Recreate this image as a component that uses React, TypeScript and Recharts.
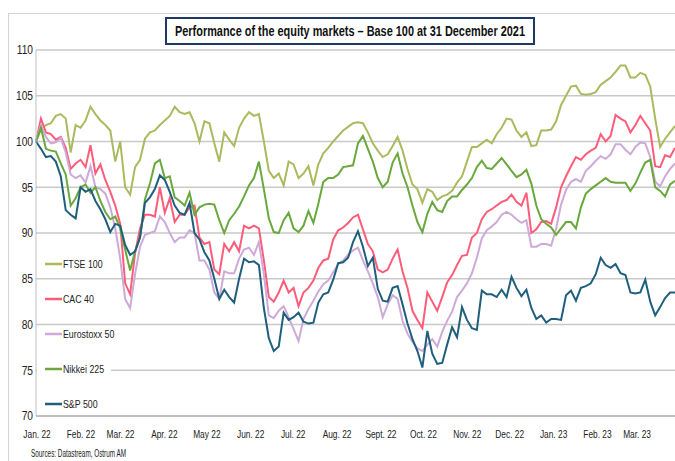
import { LineChart, Line, XAxis, YAxis, CartesianGrid } from 'recharts';

// Base 100 at 31 Dec 2021, two readings per week (every 3.5 days from 1 Jan 2022)
const FTSE = [
  100, 101.3, 101.8, 102, 102.8, 103, 102.5, 98.8, 101.8, 101.5,
  102.3, 103.8, 103, 102.3, 101.8, 101.2, 97.8, 100, 95, 94.2,
  97.2, 98, 100.3, 101, 101.2, 101.8, 102.3, 102.8, 103.8, 103.2,
  103, 103.2, 102, 100, 102.2, 102, 99.8, 97.8, 101, 100.2,
  99.5, 101.5, 102.5, 103.2, 102.8, 103, 100, 96.8, 96, 96.5,
  95.2, 97.8, 97.5, 96, 96.5, 97.3, 95.2, 97.5, 98.7, 99.3,
  100, 100.6, 101.2, 101.6, 102, 102.1, 102, 101, 99.8, 99,
  98.3, 98.6, 99.5, 100.5, 99, 97, 95.3, 94.8, 93.3, 94.8,
  94.5, 93.6, 94, 94.2, 94.6, 95.5, 96.2, 97.8, 99.4, 99.4,
  99.8, 100.2, 99.8, 100.8, 101.5, 102.5, 102.4, 101.2, 100.5, 101,
  99.5, 99.6, 101.2, 101.2, 101.3, 102.2, 104, 105, 106, 106.1,
  105.2, 105.1, 105.2, 105.4, 106.2, 106.6, 107, 107.6, 108.3, 108.3,
  107, 107, 107.5, 107.3, 106, 102.5, 99.4, 100.3, 101, 101.7,
];
const CAC = [
  100, 102.5, 101, 100.8, 100.2, 100.5, 99.3, 97, 97.6, 98,
  97.2, 99.6, 96.5, 97.5, 95.8, 94.5, 93, 91, 84.5, 83.3,
  87.8, 90.5, 92, 92, 91.8, 95, 92.2, 93.8, 91.2, 92,
  92, 92.8, 93, 89.5, 88.8, 89, 86, 85.5, 88.8, 88,
  89, 88, 90.8, 90.5, 90.8, 90.5, 87, 83, 82.5, 83.5,
  84.8, 83.5, 84, 82, 83.5, 84, 84.8, 86.2, 87, 87.2,
  89.3, 90.3, 90.6, 91.1, 91.7, 92, 90.4, 88.8, 88, 86,
  85.7, 86, 87.2, 88.2, 85.8, 84, 81.5, 80.5, 79.6, 83.5,
  82.5, 81.5, 83, 84.6, 85.4, 86.5, 87.5, 87.6, 89.5, 90,
  91.5, 92.3, 92.6, 93, 93.4, 93.6, 94.2, 93.4, 93, 94.4,
  90, 90.4, 91.2, 91.3, 91, 92.8, 95, 96.2, 97.3, 98.3,
  98, 98.6, 99, 99.3, 100.8, 100, 100.6, 102.9, 102.5, 102.2,
  101, 101.8, 102.8, 102, 101.2, 97.3, 97.2, 98.5, 98.3, 99.3,
];
const EUROSTOXX = [
  100, 101.8, 100.5, 99.8, 99.9, 100.4, 98.8, 96.4, 96, 96.3,
  95.5, 97.3, 95, 94.8, 94.3, 92.8, 90.5, 87.2, 82.8, 81.8,
  85.5, 88.5, 89.8, 90, 90.2, 91.8, 91.2, 90, 89, 89.5,
  89.5, 90.3, 90, 87, 87, 86, 83.5, 82.8, 85.8, 85.6,
  85.6, 87.2, 88.2, 88.4, 87.6, 89, 85.5, 81, 80.7, 81.5,
  82, 80.8, 79.5, 78.2, 80.6, 81.7, 82.6, 83.6, 84.4, 84.8,
  85.7, 86.6, 87, 87.6, 88.1, 88.4, 87, 85.8, 84.5, 83,
  80.8, 82.2, 83.2, 82.8, 80.4, 79, 78.1, 77.4, 77.1, 77.8,
  78.4, 77.6, 79.2, 80.4, 81.4, 83, 83.7, 84.5, 85.6, 87.3,
  89.4, 90.3, 90.7, 91.2, 92, 92.3, 92, 91.5, 91.1, 91.4,
  88.5, 88.5, 88.8, 88.8, 88.6, 90.5, 93.1, 94.7, 95.6, 95.9,
  95.6, 96.8, 97.3, 97.9, 98.4, 98.1, 98.6, 99.7, 99.7, 99.1,
  98.6, 99.4, 99.9, 99.8, 98.3, 95.6, 95.1, 96.2, 97, 97.6,
];
const NIKKEI = [
  100, 101.5, 99.2, 99, 98.9, 97.6, 96.4, 93, 93.8, 95,
  95.3, 94.4, 95, 93.5, 92.3, 91.5, 91.8, 90.5, 88.2, 85.9,
  88, 89.5, 93.7, 95.4, 97.6, 98, 96, 96.2, 93.9, 93.5,
  93, 94.4, 92, 92.8, 93.1, 93.2, 93.1, 91.4, 90, 91.4,
  92.1, 92.9, 94, 95.2, 96, 97.8, 94.8, 91.6, 90.1, 90,
  91.4, 92.2, 90.5, 90.1, 90.8, 92.4, 91.1, 93.2, 95.6, 96,
  96, 96.4, 97.2, 97.3, 97.4, 99.8, 100.6, 99.2, 97.8, 96,
  95, 95.6, 97.7, 98.7, 96.5, 95, 93, 91.2, 90.1, 92.1,
  93.4, 92.5, 92.3, 93.5, 94, 94, 94.7, 95.3, 96, 97.2,
  97.9, 97.1, 97, 97.6, 98.2, 97.5, 96.8, 96.1, 96.4, 96.9,
  95.4, 93, 91.5, 91, 90.6, 89.8, 90.5, 91.2, 91.2, 90.5,
  92.8, 94.3, 94.8, 95.2, 95.6, 96, 95.6, 95.5, 95.5, 95.5,
  94.6, 95.4, 96.6, 97.7, 98, 95, 94.6, 94, 95.3, 95.7,
];
const SP500 = [
  100, 99.2, 98.3, 98.4, 97.8, 96.2, 92.5, 92, 91.6, 95,
  94.5, 94.8, 93.5, 92.6, 91.5, 90.1, 91, 90.8, 88.7, 87.6,
  88, 89.5, 93.3, 93.9, 94.8, 96.3, 95.8, 94.5, 93, 92.2,
  92, 93.3, 90, 89.3, 87.9, 87, 85, 82.8, 83.8, 83,
  82.4, 85, 87.2, 86.8, 86.9, 86.5, 81.8, 78.5, 77.1, 77.6,
  81.3, 80.5, 80.8, 81.3, 80.3, 80.1, 80.2, 82.4, 83.3, 83.5,
  84.9, 86.7, 86.8, 87.3, 89, 90.2, 88.5, 86.4, 87.3, 83.9,
  82.6, 82.5, 84, 84.2, 82.2, 80.1, 78.4, 77.1, 75.3, 79.3,
  76.8, 75.7, 75.8, 77.8, 79.7, 78.6, 81.9, 80.5, 79.6, 79.4,
  83.7, 83.3, 83.3, 83, 83.8, 83, 85.2, 84, 83.1, 83.8,
  81.8, 80.6, 81, 80.2, 80.6, 80.6, 80.5, 83.2, 83.7, 82.6,
  84, 84.2, 84.5, 85.5, 87.3, 86.5, 86.2, 86.6, 85.6, 85.4,
  83.5, 83.4, 83.5, 84.9, 82.5, 81, 81.9, 82.9, 83.5, 83.5,
];

const SERIES = [
  { key: 'ftse', name: 'FTSE 100', values: FTSE, color: '#a9ba5f' },
  { key: 'cac', name: 'CAC 40', values: CAC, color: '#ff5c7a' },
  { key: 'euro', name: 'Eurostoxx 50', values: EUROSTOXX, color: '#cdaad8' },
  { key: 'nikkei', name: 'Nikkei 225', values: NIKKEI, color: '#68a83c' },
  { key: 'sp', name: 'S&P 500', values: SP500, color: '#1f5f7d' },
];

const MONTH_LABELS = [
  'Jan. 22', 'Feb. 22', 'Mar. 22', 'Apr. 22', 'May 22', 'Jun. 22', 'Jul. 22', 'Aug. 22',
  'Sept. 22', 'Oct. 22', 'Nov. 22', 'Dec. 22', 'Jan. 23', 'Feb. 23', 'Mar. 23',
];
const Y_TICKS = [70, 75, 80, 85, 90, 95, 100, 105, 110];

const TITLE = 'Performance of the equity markets – Base 100 at 31 December 2021';
const SOURCE = 'Sources: Datastream, Ostrum AM';

const DAY_MS = 86400000;
const START = Date.UTC(2022, 0, 1);
const MONTH_TICKS = MONTH_LABELS.map((_, m) => (Date.UTC(2022, m, 1) - START) / DAY_MS);

// no narrow font installed, so Liberation Sans is squeezed horizontally
const FONT = "'Liberation Sans', Arial, sans-serif";

const chartData = FTSE.map((_, i) => {
  const row: Record<string, number> = { day: i * 3.5 };
  SERIES.forEach((s) => {
    row[s.key] = s.values[i];
  });
  return row;
});

function MonthTick({ x, y, payload }: any) {
  const idx = MONTH_TICKS.indexOf(payload.value);
  return (
    <g transform={`translate(${x + 1},${y + 12}) scale(0.76,1)`}>
      <text x={0} y={0} dy="0.71em" textAnchor="middle" fontSize={11} fill="#222" fontFamily={FONT}>
        {MONTH_LABELS[idx]}
      </text>
    </g>
  );
}

function ValueTick({ x, y, payload }: any) {
  return (
    <g transform={`translate(${x},${y}) scale(0.85,1)`}>
      <text x={0} y={0} dy="0.355em" textAnchor="end" fontSize={12} fill="#222" fontFamily={FONT}>
        {payload.value}
      </text>
    </g>
  );
}

export default function App() {
  return (
    <div
      style={{
        position: 'absolute',
        left: 0,
        top: 0,
        width: 675,
        height: 461,
        overflow: 'hidden',
        background: '#fff',
        fontFamily: FONT,
      }}
    >
      <div
        style={{
          position: 'absolute',
          left: 8,
          top: 13,
          width: 700,
          height: 500,
          border: '1px solid #d4d4d4',
        }}
      />
      <LineChart
        width={675}
        height={461}
        data={chartData}
        margin={{ top: 50, right: 0, bottom: 20, left: 0 }}
        style={{ position: 'absolute', left: 0, top: 0 }}
      >
        <CartesianGrid vertical={false} stroke="#c9c9c9" strokeWidth={1.5} />
        <XAxis
          type="number"
          dataKey="day"
          domain={[0, 451]}
          ticks={MONTH_TICKS}
          height={25}
          tickLine={false}
          tickSize={0}
          tick={<MonthTick />}
          axisLine={{ stroke: '#bfbfbf', strokeWidth: 2 }}
          interval={0}
        />
        <YAxis
          domain={[70, 110]}
          ticks={Y_TICKS}
          width={36}
          tickLine={false}
          tickSize={0}
          tickMargin={3}
          axisLine={{ stroke: '#bfbfbf' }}
          tick={<ValueTick />}
          interval={0}
        />
        {SERIES.map((s) => (
          <Line
            key={s.key}
            dataKey={s.key}
            name={s.name}
            stroke={s.color}
            strokeWidth={2}
            dot={false}
            type="linear"
            isAnimationActive={false}
          />
        ))}
      </LineChart>

      <svg
        width={675}
        height={461}
        style={{ position: 'absolute', left: 0, top: 0, pointerEvents: 'none' }}
        fontFamily={FONT}
      >
        {/* title box */}
        <rect x={166} y={18} width={368} height={26} fill="#fff" stroke="#1f3864" strokeWidth={2} />
        <text
          x={350}
          y={36}
          textAnchor="middle"
          fontSize={14}
          fontWeight="bold"
          fill="#111"
          textLength={350}
          lengthAdjust="spacingAndGlyphs"
        >
          {TITLE}
        </text>

        {/* legend */}
        {SERIES.map((s, i) => {
          const cy = 264 + i * 35;
          return (
            <g key={s.key}>
              <rect x={37} y={cy - 8} width={74} height={16} fill="#fff" />
              <line x1={45} x2={62} y1={cy} y2={cy} stroke={s.color} strokeWidth={2.5} />
              <g transform={`translate(63,${cy + 4}) scale(0.8,1)`}>
                <text x={0} y={0} fontSize={11} fill="#222">
                  {s.name}
                </text>
              </g>
            </g>
          );
        })}

        <text x={31} y={457} fontSize={11.5} fill="#222" textLength={95} lengthAdjust="spacingAndGlyphs">
          {SOURCE}
        </text>
      </svg>
    </div>
  );
}
